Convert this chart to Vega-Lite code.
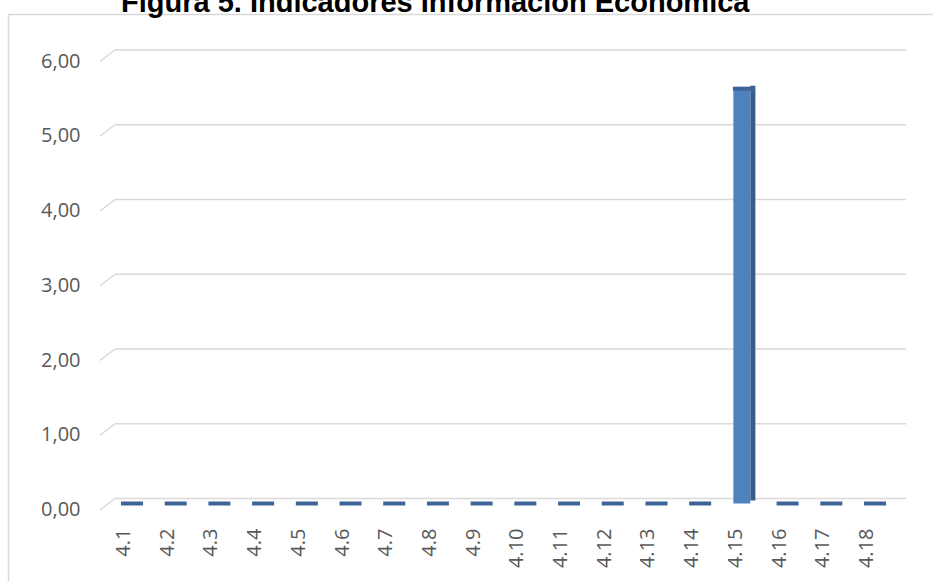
{
  "$schema": "https://vega.github.io/schema/vega-lite/v6.json",
  "width": 925,
  "height": 567,
  "autosize": "none",
  "padding": {"left": 8, "top": 14, "right": 0, "bottom": 0},
  "background": "#ffffff",
  "config": {"view": {"stroke": null}, "font": "Open Sans"},
  "title": {
    "text": "Figura 5. Indicadores Información Económica",
    "anchor": "start",
    "frame": "group",
    "dx": 113,
    "offset": -30,
    "baseline": "alphabetic",
    "font": "Liberation Sans",
    "fontSize": 29,
    "fontWeight": "bold",
    "color": "#000000"
  },
  "datasets": {
    "bars": [
      {"cat": "4.1", "value": 0},
      {"cat": "4.2", "value": 0},
      {"cat": "4.3", "value": 0},
      {"cat": "4.4", "value": 0},
      {"cat": "4.5", "value": 0},
      {"cat": "4.6", "value": 0},
      {"cat": "4.7", "value": 0},
      {"cat": "4.8", "value": 0},
      {"cat": "4.9", "value": 0},
      {"cat": "4.10", "value": 0},
      {"cat": "4.11", "value": 0},
      {"cat": "4.12", "value": 0},
      {"cat": "4.13", "value": 0},
      {"cat": "4.14", "value": 0},
      {"cat": "4.15", "value": 5.55},
      {"cat": "4.16", "value": 0},
      {"cat": "4.17", "value": 0},
      {"cat": "4.18", "value": 0}
    ],
    "grid": [
      {"value": 0}, {"value": 1}, {"value": 2}, {"value": 3}, {"value": 4}, {"value": 5}, {"value": 6}
    ]
  },
  "layer": [
    {
      "data": {"name": "grid"},
      "mark": {"type": "point", "opacity": 0},
      "encoding": {
        "x": {"datum": 0, "type": "quantitative", "scale": {"domain": [0, 1]},
          "axis": {"orient": "top", "domain": true, "domainColor": "#d9d9d9", "domainWidth": 1.5, "labels": false, "ticks": false, "grid": false, "title": null}},
        "y": {"field": "value", "type": "quantitative", "scale": {"domain": [0, 6]},
          "axis": {"orient": "left", "domain": true, "domainColor": "#d9d9d9", "domainWidth": 1.5, "labels": false, "ticks": false, "grid": false, "title": null}}
      }
    },
    {
      "data": {"name": "grid"},
      "mark": {"type": "rule", "color": "#d9d9d9", "strokeWidth": 1.5, "yOffset": -5},
      "encoding": {
        "x": {"datum": 0, "type": "quantitative", "scale": {"domain": [0, 1], "range": [107, 898]}, "axis": null},
        "x2": {"datum": 1},
        "y": {"field": "value", "type": "quantitative", "scale": {"domain": [0, 6], "range": [489.5, 41], "nice": false, "zero": false}, "axis": null}
      }
    },
    {
      "data": {"name": "grid"},
      "mark": {"type": "rule", "color": "#d9d9d9", "strokeWidth": 1.5, "yOffset": 6.5, "y2Offset": -5},
      "encoding": {
        "x": {"datum": -0.019, "type": "quantitative", "scale": {"domain": [0, 1], "range": [107, 898]}, "axis": null},
        "x2": {"datum": 0},
        "y": {"field": "value", "type": "quantitative", "scale": {"domain": [0, 6], "range": [489.5, 41], "nice": false, "zero": false}, "axis": null},
        "y2": {"field": "value"}
      }
    },
    {
      "data": {"name": "bars"},
      "transform": [{"filter": "datum.value > 0"}],
      "mark": {"type": "bar", "color": "#4f81bd", "size": 17, "xOffset": 6, "y2Offset": 3},
      "encoding": {
        "x": {
          "field": "cat", "type": "nominal", "sort": null,
          "scale": {"domain": ["4.1","4.2","4.3","4.4","4.5","4.6","4.7","4.8","4.9","4.10","4.11","4.12","4.13","4.14","4.15","4.16","4.17","4.18"], "range": [94.15, 880.85], "paddingInner": 0, "paddingOuter": 0},
          "axis": {
            "labelAngle": -90, "labelAlign": "right", "labelBaseline": "middle",
            "ticks": false, "domain": false, "grid": false,
            "offset": -53, "labelPadding": 0,
            "labelFontSize": 20, "labelColor": "#595959", "labelFont": "Open Sans",
            "title": null
          }
        },
        "y": {
          "field": "value", "type": "quantitative",
          "scale": {"domain": [0, 6], "range": [489.5, 41], "nice": false, "zero": false},
          "axis": {
            "orient": "left",
            "values": [0, 1, 2, 3, 4, 5, 6],
            "labelExpr": "replace(format(datum.value, '.2f'), '.', ',')",
            "grid": false, "ticks": false, "domain": false,
            "offset": -76, "labelPadding": 4, "labelOffset": 6,
            "labelFontSize": 20, "labelColor": "#595959", "labelFont": "Open Sans",
            "title": null
          }
        }
      }
    },
    {
      "data": {"name": "bars"},
      "transform": [{"filter": "datum.value > 0"}],
      "mark": {"type": "bar", "color": "#385d8a", "size": 5, "xOffset": 17, "yOffset": -3},
      "encoding": {
        "x": {
          "field": "cat", "type": "nominal", "sort": null,
          "scale": {"domain": ["4.1","4.2","4.3","4.4","4.5","4.6","4.7","4.8","4.9","4.10","4.11","4.12","4.13","4.14","4.15","4.16","4.17","4.18"], "range": [94.15, 880.85], "paddingInner": 0, "paddingOuter": 0},
          "axis": null
        },
        "y": {"field": "value", "type": "quantitative", "scale": {"domain": [0, 6], "range": [489.5, 41], "nice": false, "zero": false}, "axis": null}
      }
    },
    {
      "data": {"name": "bars"},
      "mark": {"type": "tick", "color": "#3d6497", "opacity": 1, "thickness": 4, "size": 22, "xOffset": 8},
      "encoding": {
        "x": {
          "field": "cat", "type": "nominal", "sort": null,
          "scale": {"domain": ["4.1","4.2","4.3","4.4","4.5","4.6","4.7","4.8","4.9","4.10","4.11","4.12","4.13","4.14","4.15","4.16","4.17","4.18"], "range": [94.15, 880.85], "paddingInner": 0, "paddingOuter": 0},
          "axis": null
        },
        "y": {"field": "value", "type": "quantitative", "scale": {"domain": [0, 6], "range": [489.5, 41], "nice": false, "zero": false}, "axis": null}
      }
    }
  ],
  "resolve": {"scale": {"x": "independent", "y": "independent"}, "axis": {"x": "independent", "y": "independent"}}
}
